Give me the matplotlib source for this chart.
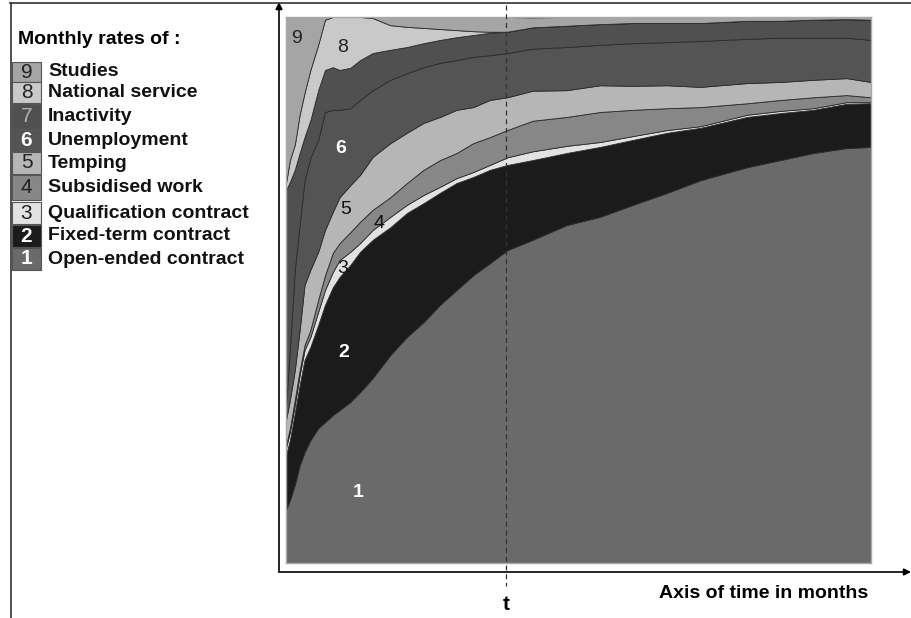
import numpy as np
import matplotlib
matplotlib.use("Agg")
import matplotlib.pyplot as plt
from matplotlib.patches import Rectangle
from matplotlib.lines import Line2D

plt.rcParams["font.family"] = ["Liberation Sans", "DejaVu Sans"]

# ------------------------------------------------------------
# Data: monthly share (%) of each state
# ------------------------------------------------------------
months = [0, 0.4, 0.9, 1.4, 1.9, 2.5, 3.3, 4.0, 4.8, 5.5, 6.6, 7.6, 8.9, 10.7,
          12.4, 14.1, 15.8, 17.5, 19.2, 20.9, 22.7, 25.3, 28.8, 32.2, 35.6,
          39.1, 42.5, 47.3, 50.7, 54.1, 57.5, 60]

open_ended = [9.7, 11.5, 14.3, 17.9, 20.3, 22.5, 24.7, 25.8, 27.1, 28.0, 29.5,
              31.3, 33.9, 38.1, 41.4, 44.1, 47.3, 50.0, 52.7, 54.9, 57.3, 59.2,
              61.9, 63.4, 65.6, 67.8, 70.1, 72.5, 73.8, 75.1, 76.0, 76.2]
fixed_term = [10.1, 11.0, 13.2, 14.7, 16.9, 17.1, 18.9, 21.5, 23.4, 24.4, 25.1,
              25.7, 25.3, 23.4, 22.7, 21.8, 20.5, 19.6, 18.0, 17.1, 15.6, 14.6,
              13.2, 12.8, 11.9, 11.0, 9.6, 9.2, 8.6, 7.9, 8.1, 8.0]
qualification = [1.3, 1.5, 1.4, 1.8, 1.8, 1.8, 2.4, 2.7, 2.8, 3.1, 2.4, 1.6,
                 1.8, 1.9, 1.5, 1.5, 1.1, 0.9, 0.9, 0.9, 1.4, 1.6, 1.3, 0.9,
                 0.7, 0.5, 0.3, 0.4, 0.4, 0.3, 0.3, 0.2]
subsidised = [0.5, 0.7, 1.0, 0.9, 0.9, 1.3, 2.2, 2.7, 3.5, 3.1, 3.6, 3.9, 3.7,
              3.6, 4.0, 4.6, 4.9, 4.6, 5.3, 5.1, 5.0, 5.6, 5.3, 5.5, 4.8, 4.0,
              3.5, 2.1, 2.0, 2.0, 1.3, 0.9]
temping = [4.6, 5.2, 5.4, 7.4, 11.0, 11.0, 8.8, 8.3, 7.5, 8.4, 8.6, 8.6, 9.7,
           9.9, 9.2, 8.6, 7.9, 7.9, 6.6, 6.8, 6.0, 5.5, 4.9, 4.9, 4.4, 4.2,
           3.7, 3.7, 3.3, 3.2, 3.1, 2.8]
unemployment = [2.7, 9.1, 18.4, 19.2, 19.2, 20.5, 20.5, 21.6, 18.7, 16.0, 14.1,
                13.7, 12.2, 11.6, 10.9, 10.2, 9.9, 9.1, 9.2, 8.2, 8.1, 7.7,
                7.9, 7.4, 7.8, 7.9, 8.4, 8.1, 8.1, 7.7, 7.4, 7.7]
inactivity = [39.4, 30.8, 18.3, 13.2, 7.9, 6.9, 9.1, 7.7, 7.8, 7.3, 7.4, 7.3,
              6.8, 5.5, 4.8, 4.4, 4.2, 4.2, 4.0, 4.1, 3.9, 3.9, 3.9, 3.8, 3.7,
              3.5, 3.3, 3.3, 3.1, 3.3, 3.4, 3.7]
national_service = [1.3, 4.0, 4.6, 7.0, 8.1, 9.2, 8.3, 9.2, 9.2, 9.7, 9.3, 7.9,
                    6.4, 4.5, 3.7, 2.8, 2.0, 1.3, 0.7, 0.2, 0, 0, 0, 0, 0, 0,
                    0, 0, 0, 0, 0, 0]
studies = [30.4, 26.2, 23.4, 17.9, 13.9, 9.7, 5.1, 0.5, 0, 0, 0, 0, 0.2, 1.5,
           1.8, 2.0, 2.2, 2.4, 2.6, 2.7, 2.7, 1.8, 1.6, 1.3, 1.1, 1.1, 1.1,
           0.7, 0.7, 0.5, 0.4, 0.5]

state_names = ["Open-ended contract", "Fixed-term contract", "Qualification contract",
               "Subsidised work", "Temping", "Unemployment", "Inactivity",
               "National service", "Studies"]
state_colors = ["#6a6a6a", "#1b1b1b", "#e2e2e2", "#878787", "#b6b6b6",
                "#545454", "#505050", "#c9c9c9", "#a5a5a5"]
t_month = 22.6

series = [open_ended, fixed_term, qualification, subsidised, temping,
          unemployment, inactivity, national_service, studies]

# ------------------------------------------------------------
# Canvas
# ------------------------------------------------------------
W, H = 912, 618
fig = plt.figure(figsize=(W / 100, H / 100), dpi=100)
fig.patch.set_facecolor("white")


def fx(px):
    return px / W


def fy(py):
    return 1 - py / H


ax = fig.add_axes([fx(286), fy(563), fx(871) - fx(286), (563 - 17) / H])
ax.stackplot(months, *series, colors=state_colors,
             edgecolor="#2a2a2a", linewidth=0.6)
ax.set_xlim(0, 60)
ax.set_ylim(0, 100)
ax.set_xticks([])
ax.set_yticks([])
for s in ax.spines.values():
    s.set_color("#a8a8a8")
    s.set_linewidth(1.0)

# labels inside the areas
area_labels = [("9", 1.1, 96.0, "#222222", "normal"),
               ("8", 5.8, 94.5, "#222222", "normal"),
               ("6", 5.6, 76.0, "white", "bold"),
               ("5", 6.1, 64.7, "#111111", "normal"),
               ("4", 9.5, 62.1, "#111111", "normal"),
               ("3", 5.8, 54.0, "#111111", "normal"),
               ("2", 5.9, 38.6, "white", "bold"),
               ("1", 7.4, 12.9, "white", "bold")]
for txt, xm, yp, col, wt in area_labels:
    ax.text(xm, yp, txt, color=col, fontweight=wt, fontsize=14,
            ha="center", va="center")

# ------------------------------------------------------------
# Axes arrows, frame, t marker
# ------------------------------------------------------------
fig.add_artist(Line2D([fx(10), 1.0], [fy(3), fy(3)], color="#333333", lw=1.2))
fig.add_artist(Line2D([fx(11), fx(11)], [fy(3), 0.0], color="#333333", lw=1.2))

fig.add_artist(Line2D([fx(506), fx(506)], [fy(5), fy(586)], color="#333333",
                      lw=0.9, ls=(0, (4, 3))))

ax.annotate("", xy=(fx(279), fy(2)), xytext=(fx(279), fy(572)),
            xycoords="figure fraction", textcoords="figure fraction",
            arrowprops=dict(arrowstyle="-|>", color="black", lw=1.2,
                            mutation_scale=10, shrinkA=0, shrinkB=0))
ax.annotate("", xy=(fx(911), fy(572)), xytext=(fx(279), fy(572)),
            xycoords="figure fraction", textcoords="figure fraction",
            arrowprops=dict(arrowstyle="-|>", color="black", lw=1.2,
                            mutation_scale=10, shrinkA=0, shrinkB=0))

fig.text(fx(506), fy(605), "t", fontsize=15, fontweight="bold",
         ha="center", va="center")
fig.text(fx(764), fy(593), "Axis of time in months", fontsize=14,
         fontweight="bold", ha="center", va="center")

# ------------------------------------------------------------
# Legend
# ------------------------------------------------------------
fig.text(fx(18), fy(40), "Monthly rates of :", fontsize=14,
         fontweight="bold", ha="left", va="center")

swatch_rows = [(62, 82), (82, 103), (104, 129), (130, 151), (152, 174),
               (175, 200), (202, 224), (225, 247), (248, 270)]
num_colors = ["#222222", "#222222", "#b0b0b0", "white", "#222222",
              "#222222", "#222222", "white", "white"]
num_weights = ["normal", "normal", "normal", "bold", "normal", "normal",
               "normal", "bold", "bold"]
for k, (top, bot) in enumerate(swatch_rows):
    idx = 8 - k
    fig.add_artist(Rectangle((fx(12), fy(bot)), fx(41) - fx(12), (bot - top) / H,
                             transform=fig.transFigure, facecolor=state_colors[idx],
                             edgecolor="#555555", lw=0.8))
    yc = fy((top + bot) / 2)
    fig.text(fx(26.5), yc, str(idx + 1), fontsize=15, color=num_colors[k],
             fontweight=num_weights[k], ha="center", va="center")
    fig.text(fx(48), yc, state_names[idx], fontsize=14, fontweight="bold",
             color="#111111", ha="left", va="center")

fig.savefig("out.png", dpi=100, facecolor="white")
